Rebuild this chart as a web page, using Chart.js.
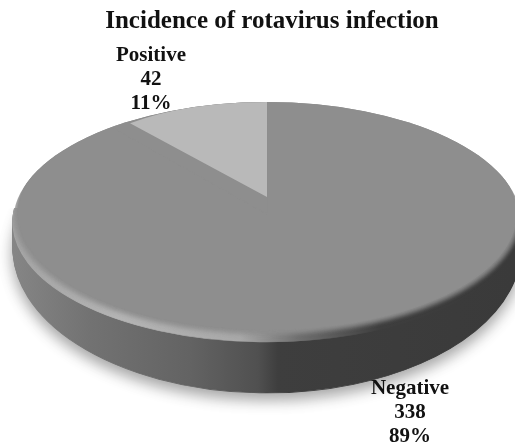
<!DOCTYPE html>
<html lang="en">
<head>
    <meta charset="UTF-8">
    <title>Incidence of rotavirus infection</title>
    <script src="https://cdn.jsdelivr.net/npm/chart.js@4"></script>
    <style>
        * { margin: 0; padding: 0; }
        body { background: white; }
        canvas { display: block; }
    </style>
</head>
<body>
    <canvas id="pie" width="515" height="445"></canvas>

    <script>
        const categories = ['Negative', 'Positive'];
        const counts = [338, 42];
        const percents = ['89%', '11%'];
        const sliceColors = ['#8e8e8e', '#b9b9b9'];

        // where the tilted disc sits on the page
        const topRim = { x: 267, y: 222, rx: 254, ry: 120 };
        const face = { x: 267, y: 214, rx: 253, ry: 120 };
        const faceCore = { x: 267, y: 214, rx: 249, ry: 116 };
        const lowRim = { x: 267, y: 248, rx: 254, ry: 145 };
        const wedge = { x: 267, y: 197, rx: 214, ry: 96 };
        const labelPos = [{ x: 410, y: 394 }, { x: 151, y: 61 }];
        const wallTop = 208;

        function project(ctx, el, e) {
            ctx.translate(e.x, e.y);
            ctx.scale(e.rx / el.outerRadius, e.ry / el.outerRadius);
            ctx.translate(-el.x, -el.y);
        }

        function sideGradient(ctx, el, e, stops) {
            const toLocal = px => el.x + (px - e.x) * el.outerRadius / e.rx;
            const g = ctx.createLinearGradient(toLocal(0), 0, toLocal(515), 0);
            stops.forEach(s => g.addColorStop(s[0] / 515, s[1]));
            return g;
        }

        // same arc, other fill; the thin border hides the seam between slices
        function paint(ctx, el, fill) {
            const saved = el.options;
            el.options = { ...saved, backgroundColor: fill, borderColor: fill, borderWidth: 1 };
            el.draw(ctx);
            el.options = saved;
        }

        const tiltedPie = {
            id: 'tiltedPie',
            beforeDatasetsDraw(chart) {
                const ctx = chart.ctx;
                const arcs = chart.getDatasetMeta(0).data;
                const el = arcs[0];

                // wall and bevel only show below the disc's widest part
                ctx.save();
                ctx.beginPath();
                ctx.rect(0, wallTop, 515, 445 - wallTop);
                ctx.clip();

                // side wall, from the lower rim up to the top rim
                const steps = 30;
                for (let i = steps; i >= 0; i--) {
                    const t = i / steps;
                    const e = {
                        x: topRim.x,
                        y: topRim.y + (lowRim.y - topRim.y) * t,
                        rx: topRim.rx,
                        ry: topRim.ry + (lowRim.ry - topRim.ry) * t
                    };
                    ctx.save();
                    if (i === steps) {
                        ctx.shadowColor = 'rgba(0,0,0,0.35)';
                        ctx.shadowBlur = 14;
                        ctx.shadowOffsetY = 7;
                    }
                    project(ctx, el, e);
                    const fill = sideGradient(ctx, el, e, [
                        [10, '#868686'], [90, '#727272'], [190, '#636363'],
                        [258, '#505050'], [278, '#3e3e3e'], [515, '#3a3a3a']
                    ]);
                    arcs.forEach(a => paint(ctx, a, fill));
                    ctx.restore();
                }

                // bevel round the top face
                ctx.save();
                project(ctx, el, topRim);
                const rim = sideGradient(ctx, el, topRim, [
                    [10, '#a4a4a4'], [120, '#b4b4b4'], [240, '#a8a8a8'],
                    [300, '#6e6e6e'], [380, '#3e3e3e'], [515, '#3a3a3a']
                ]);
                arcs.forEach(a => paint(ctx, a, rim));
                ctx.restore();
                ctx.restore();

                // top face, soft edge, kept inside the rim
                ctx.save();
                ctx.beginPath();
                ctx.ellipse(topRim.x, topRim.y, topRim.rx, topRim.ry, 0, 0, Math.PI * 2);
                ctx.clip();
                ctx.save();
                ctx.filter = 'blur(2px)';
                project(ctx, el, face);
                arcs.forEach(a => paint(ctx, a, sliceColors[0]));
                ctx.restore();

                // solid middle over the blur, so no gap opens between the slices
                ctx.save();
                project(ctx, el, faceCore);
                arcs.forEach(a => paint(ctx, a, sliceColors[0]));
                ctx.restore();

                // the lighter slice has its tip above the disc centre
                ctx.save();
                project(ctx, el, wedge);
                arcs[1].draw(ctx);
                ctx.restore();
                ctx.restore();
                return false;
            },
            afterDraw(chart) {
                const ctx = chart.ctx;
                ctx.save();
                ctx.fillStyle = '#111';
                ctx.font = 'bold 21px "Liberation Serif"';
                ctx.textAlign = 'center';
                categories.forEach((name, i) => {
                    [name, counts[i], percents[i]].forEach((line, j) => {
                        ctx.fillText(line, labelPos[i].x, labelPos[i].y + j * 24);
                    });
                });
                ctx.restore();
            }
        };

        new Chart(document.getElementById('pie'), {
            type: 'pie',
            data: {
                labels: categories,
                datasets: [{
                    data: counts,
                    backgroundColor: sliceColors,
                    borderWidth: 0
                }]
            },
            options: {
                responsive: false,
                animation: false,
                layout: { padding: { left: 29 } },
                plugins: {
                    legend: { display: false },
                    tooltip: { enabled: false },
                    title: {
                        display: true,
                        text: 'Incidence of rotavirus infection',
                        color: '#111',
                        font: { family: '"Liberation Serif"', size: 25, weight: 'bold' },
                        padding: { top: 7, bottom: 10 }
                    }
                }
            },
            plugins: [tiltedPie]
        });
    </script>
</body>
</html>
